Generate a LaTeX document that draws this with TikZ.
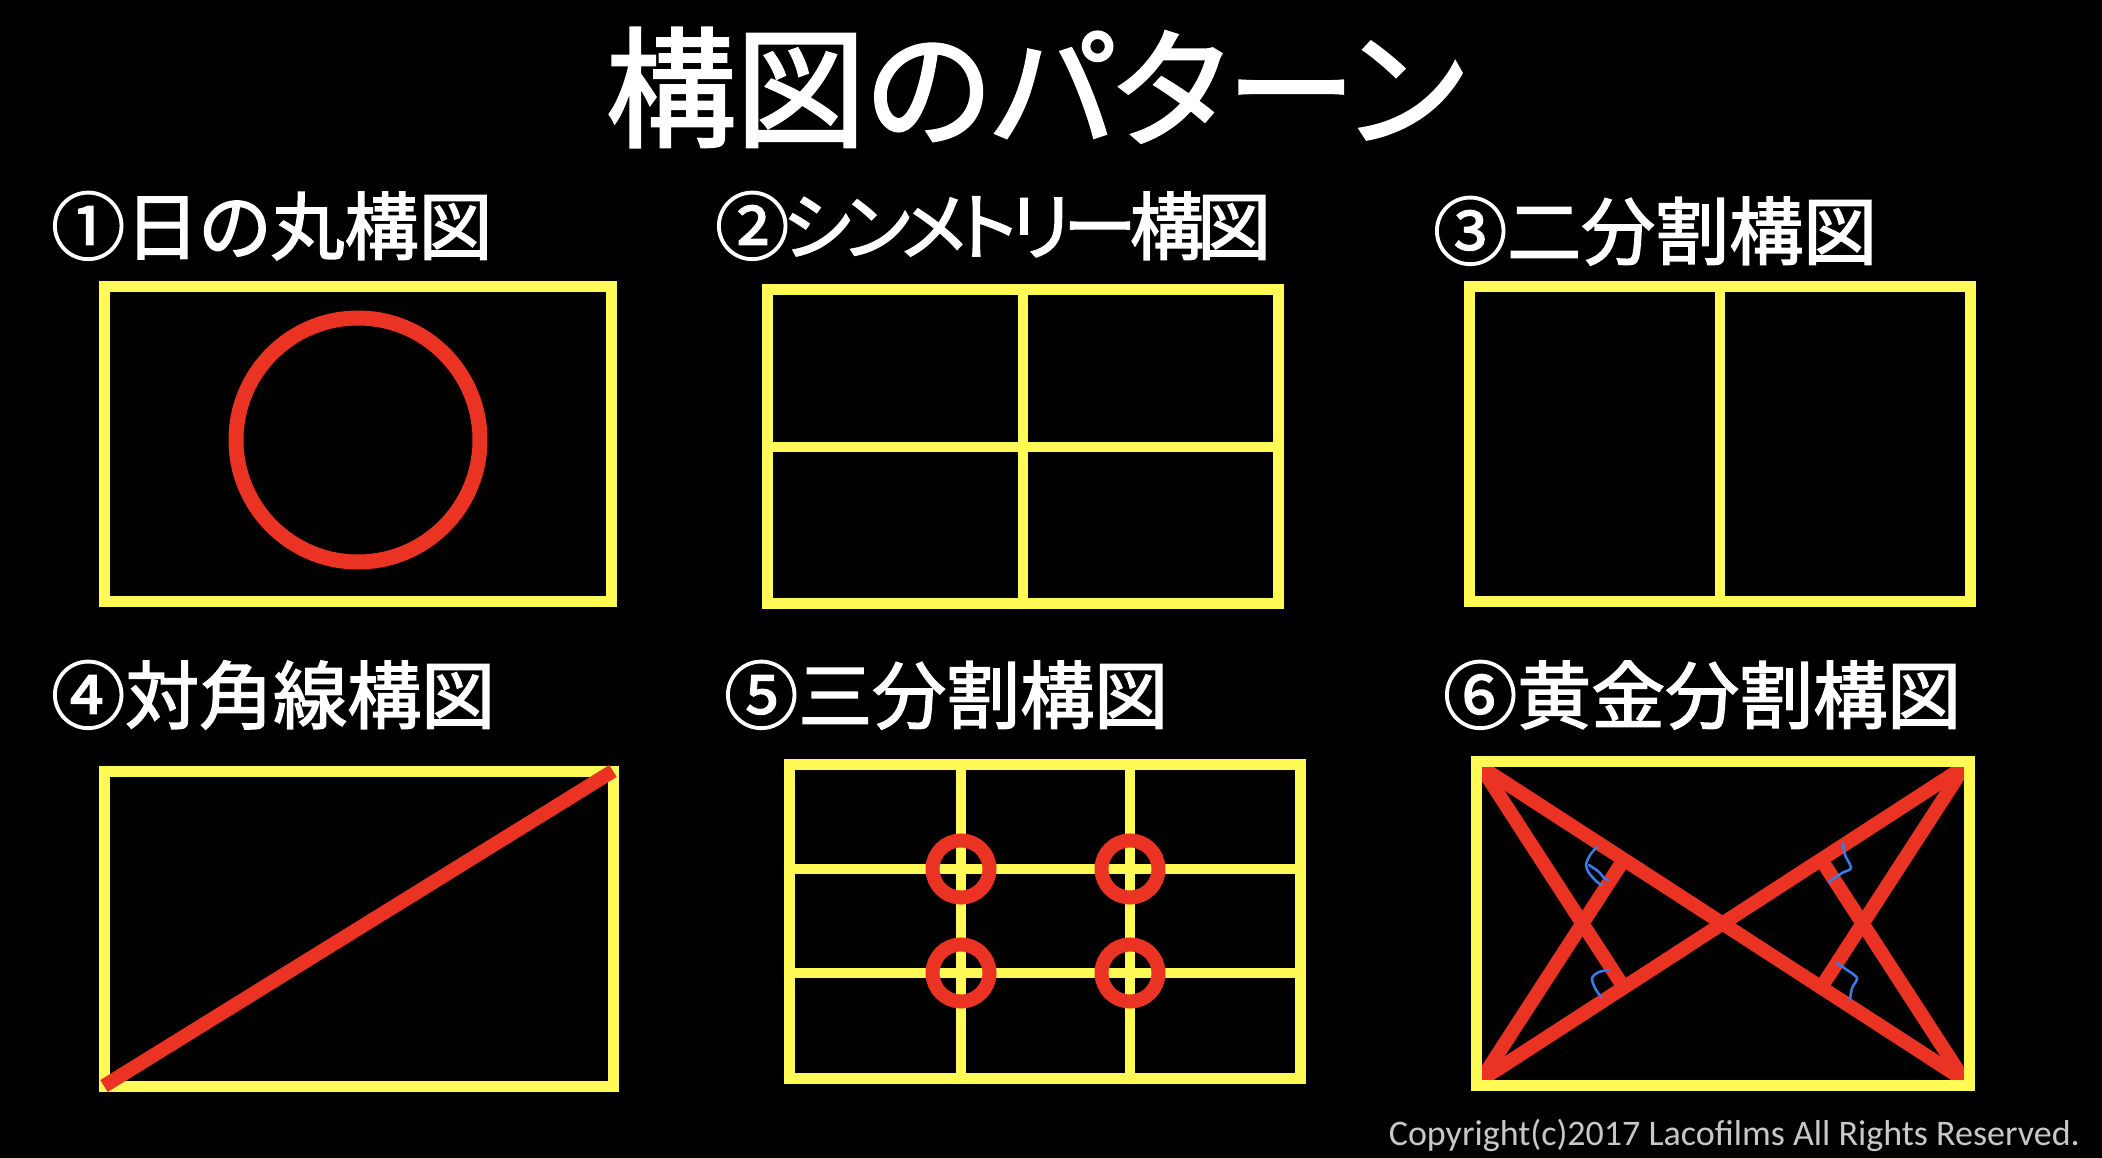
\documentclass[tikz,border=0pt]{standalone}
\usepackage{fontspec}
\newfontfamily\jpfont[RawFeature=+palt, FakeBold=2]{Noto Sans CJK JP}
\newfontfamily\jpnarrow[RawFeature=+palt, FakeBold=2, LetterSpace=-9]{Noto Sans CJK JP}
\newfontfamily\copyfont{Carlito}
\usetikzlibrary{calc}
\definecolor{frameyellow}{RGB}{255,250,85}
\definecolor{accentred}{RGB}{234,51,35}
\definecolor{markblue}{RGB}{55,125,235}
\definecolor{copygrey}{RGB}{200,200,200}

\begin{document}
\begin{tikzpicture}
  [
    x=1pt, y=-1pt,
    frame/.style={draw=frameyellow, line width=11pt},
    divider/.style={draw=frameyellow, line width=10pt},
    accent/.style={draw=accentred, line width=14pt},
    rightmark/.style={draw=markblue, line width=2.5pt, line cap=round, line join=round},
    heading/.style={anchor=base, inner sep=0pt, text=white,
      font=\jpfont\bfseries\fontsize{130}{130}\selectfont},
    paneltitle/.style={anchor=base west, inner sep=0pt, text=white,
      font=\jpfont\fontsize{74}{74}\selectfont}
  ]
  \fill[black] (0,0) rectangle (2102,1158);
  \useasboundingbox (0,0) rectangle (2102,1158);
  % titles
  \node [heading, font=\jpfont\fontsize{130}{130}\selectfont] (title) at (1035,137) {構図のパターン};
  \node [paneltitle] (t1) at (51,254) {①日の丸構図};
  \node [paneltitle, font=\jpnarrow\fontsize{74}{74}\selectfont] (t2) at (715,254) {②シンメトリー構図};
  \node [paneltitle] (t3) at (1433,259) {③二分割構図};
  \node [paneltitle] (t4) at (51,723) {④対角線構図};
  \node [paneltitle] (t5) at (724,723) {⑤三分割構図};
  \node [paneltitle] (t6) at (1443,723) {⑥黄金分割構図};
  % hinomaru
  \draw [frame] (104,287) rectangle (611,601);
  \draw [accent, line width=15pt] (358,440) circle [radius=122pt];
  % symmetry
  \draw [frame] (767,290) rectangle (1278,603);
  \draw [divider] (1022.5,290) -- (1022.5,603);
  \draw [divider] (767,447) -- (1278,447);
  % halves
  \draw [frame] (1469,287) rectangle (1970,601);
  \draw [divider] (1719.5,287) -- (1719.5,601);
  % diagonal
  \draw [frame] (104,771) rectangle (613,1086);
  \draw [accent] (104,1086) -- (613,771);
  % thirds
  \draw [frame] (789,764) rectangle (1300,1078);
  \foreach \x in {961,1130} {
      \draw [divider] (\x,764) -- (\x,1078);
  }
  \foreach \y in {869,973} {
      \draw [divider] (789,\y) -- (1300,\y);
  }
  \foreach \x in {961,1130} {
    \foreach \y in {869,973} {
        \draw [accent] (\x,\y) circle [radius=28.5pt];
    }
  }
  % golden triangles
  \coordinate (g-nw) at (1481,767);
  \coordinate (g-ne) at (1964,767);
  \coordinate (g-sw) at (1481,1080);
  \coordinate (g-se) at (1964,1080);
  \begin{scope}
    \clip (1476,761) rectangle (1969,1085);
    \draw [accent] (g-nw) -- (g-se);
    \draw [accent] (g-sw) -- (g-ne);
    \draw [accent] (g-nw) -- ($(g-sw)!(g-nw)!(g-ne)$);
    \draw [accent] (g-sw) -- ($(g-nw)!(g-sw)!(g-se)$);
    \draw [accent] (g-ne) -- ($(g-nw)!(g-ne)!(g-se)$);
    \draw [accent] (g-se) -- ($(g-sw)!(g-se)!(g-ne)$);
  \end{scope}
  \draw [frame] (1476,761) rectangle (1969,1085);
  % right angle marks
  \draw [rightmark] plot [smooth] coordinates {(1597,847) (1590,855) (1586,865) (1589,873) (1597,882) (1602,885)};
  \draw [rightmark] plot [smooth] coordinates {(1589,865) (1599,872) (1604,878) (1608,880)};
  \draw [rightmark] plot [smooth] coordinates {(1609,970) (1599,972) (1592,978) (1595,988) (1601,997)};
  \draw [rightmark] plot [smooth] coordinates {(1843,843) (1845,855) (1851,868) (1842,873) (1829,882)};
  \draw [rightmark] plot [smooth] coordinates {(1837,963) (1847,970) (1857,978) (1852,988) (1850,1000)};
  % copyright
  \node [anchor=base east, inner sep=0pt, text=copygrey,
    font=\copyfont\fontsize{36}{36}\selectfont] (copy) at (2080,1145)
    {Copyright(c)2017 Lacofilms All Rights Reserved.};
\end{tikzpicture}
\end{document}
